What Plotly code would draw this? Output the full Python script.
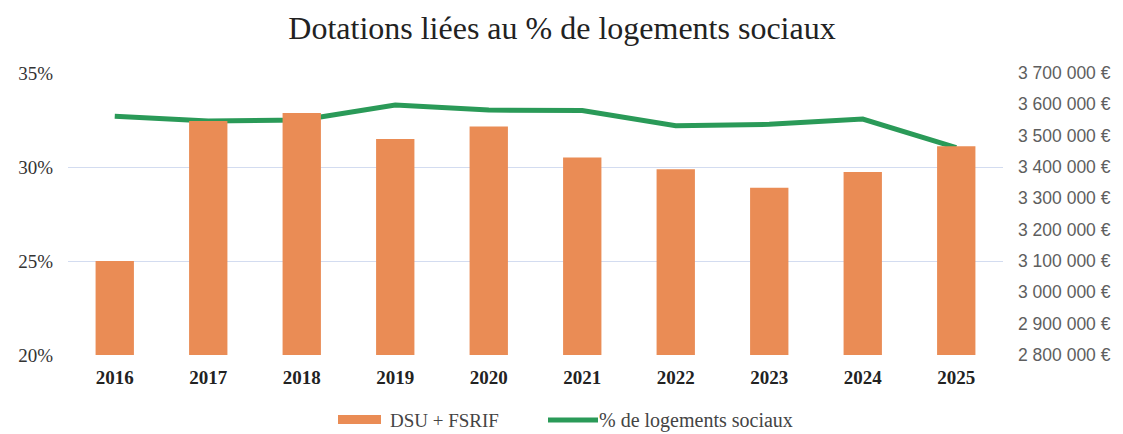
import plotly.graph_objects as go

years = ["2016", "2017", "2018", "2019", "2020", "2021", "2022", "2023", "2024", "2025"]
dsu_fsrif = [3100000, 3547000, 3572000, 3489000, 3529000, 3430000, 3393000, 3334000, 3384000, 3466000]
pct_logements = [32.7, 32.45, 32.5, 33.3, 33.03, 33.0, 32.2, 32.27, 32.55, 31.03]

left_ticks = [20, 25, 30, 35]
left_labels = ["20%", "25%", "30%", "35%"]
right_ticks = [2800000, 2900000, 3000000, 3100000, 3200000, 3300000, 3400000, 3500000, 3600000, 3700000]
right_labels = ["2 800 000 €", "2 900 000 €", "3 000 000 €", "3 100 000 €", "3 200 000 €",
                "3 300 000 €", "3 400 000 €", "3 500 000 €", "3 600 000 €", "3 700 000 €"]

bar_name = "DSU + FSRIF"
line_name = "% de logements sociaux"
bar_color = "#EA8C55"
line_color = "#2A9A58"
SERIF = "Liberation Serif, Times New Roman, serif"

# page has an 8px body margin: figure occupies x 8..1123, y 8..434
PL, PR, PT, PB = 68, 1003, 73, 355  # plot area in page pixels
W, H = 1115, 426


def px(x):
    return (x - PL) / (PR - PL)


def py(y):
    return (PB - y) / (PB - PT)


fig = go.Figure()
fig.add_trace(go.Bar(
    x=years, y=dsu_fsrif, name=bar_name, yaxis="y2",
    marker=dict(color=bar_color, line=dict(width=0)), width=0.41, showlegend=False,
))
fig.add_trace(go.Scatter(
    x=years, y=pct_logements, name=line_name, yaxis="y",
    mode="lines", line=dict(color=line_color, width=5), showlegend=False,
))

# custom legend (wide swatches as in reference)
fig.add_shape(type="rect", xref="paper", yref="paper",
              x0=px(338), x1=px(381), y0=py(424), y1=py(415),
              fillcolor=bar_color, line=dict(width=0))
fig.add_annotation(text=bar_name, xref="paper", yref="paper",
                   x=px(388), y=py(420), xanchor="left", yanchor="middle",
                   showarrow=False, font=dict(family=SERIF, size=19, color="#444444"))
fig.add_shape(type="line", xref="paper", yref="paper",
              x0=px(548), x1=px(598), y0=py(420), y1=py(420),
              line=dict(color=line_color, width=5))
fig.add_annotation(text=line_name, xref="paper", yref="paper",
                   x=px(597), y=py(420), xanchor="left", yanchor="middle",
                   showarrow=False, font=dict(family=SERIF, size=20, color="#444444"))

fig.update_layout(
    width=W, height=H,
    paper_bgcolor="white", plot_bgcolor="white",
    margin=dict(l=PL - 8, r=1123 - PR, t=PT - 8, b=434 - PB),
    title=dict(text="Dotations liées au % de logements sociaux", x=(562 - 8) / W, xanchor="center",
               y=1 - 20 / H, yanchor="middle",
               font=dict(family=SERIF, size=32, color="#222222")),
    font=dict(family=SERIF, color="#333333"),
    showlegend=False,
    xaxis=dict(type="category", showgrid=False, showline=False, ticks="", automargin=False,
               tickfont=dict(family=SERIF, size=19, color="#222222", weight="bold"),
               ticklabelstandoff=9),
    yaxis=dict(range=[20, 35], tickvals=left_ticks, ticktext=left_labels, automargin=False,
               showgrid=True, gridcolor="#D3DCF0", gridwidth=1.3, zeroline=False,
               tickfont=dict(family=SERIF, size=19, color="#333333"),
               ticklabelstandoff=14),
    yaxis2=dict(range=[2800000, 3700000], tickvals=right_ticks, ticktext=right_labels,
                overlaying="y", side="right", showgrid=False, zeroline=False, automargin=False,
                tickfont=dict(family="Liberation Sans", size=17.5, color="#5E5E5E"),
                ticklabelstandoff=14),
)

fig.write_html("out.html")
